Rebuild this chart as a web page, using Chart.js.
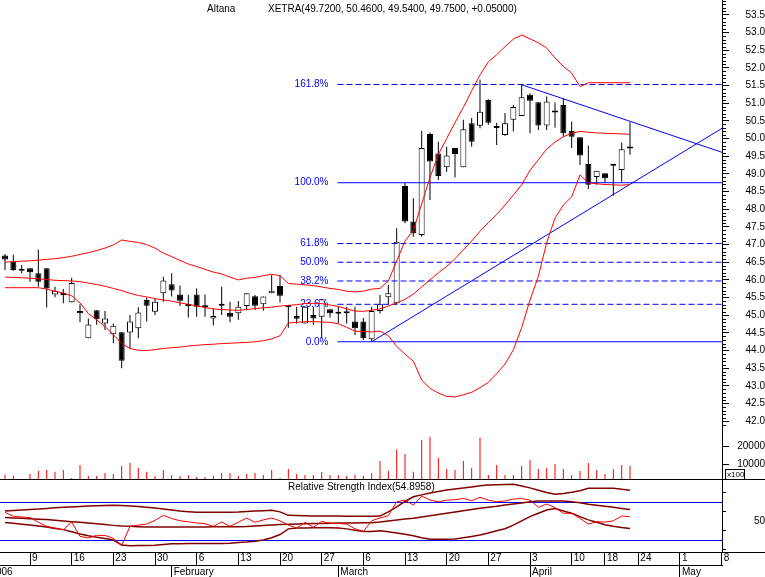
<!DOCTYPE html>
<html>
<head>
<meta charset="utf-8">
<title>Altana</title>
<script src="https://cdn.jsdelivr.net/npm/chart.js@4.4.1/dist/chart.umd.min.js"></script>
<style>
  html, body { margin: 0; padding: 0; background: #ffffff; }
  #altana-chart { display: block; width: 765px; height: 577px; }
</style>
</head>
<body>
<canvas id="altana-chart" width="765" height="577"></canvas>
<script>
// daily candles, 4 Jan 2006 (index 0) .. 21 Apr 2006 (index 75)
const opens = [
  46.69, 46.52, 46.30, 46.33, 46.19, 46.33, 45.59, 45.64, 45.37, 45.12,
  44.35, 45.14, 44.77, 44.46, 44.52, 44.51, 44.63, 45.43, 45.10, 45.62,
  45.88, 45.59, 45.26, 45.59, 45.26, 44.91, 45.32, 45.07, 45.06, 45.26,
  45.54, 45.31, 45.62, 45.83, 45.29, 44.98, 44.77, 45.01, 44.96, 45.17,
  45.04, 45.07, 44.82, 44.82, 44.32, 45.12, 45.51, 45.34, 48.66, 47.65,
  47.27, 50.13, 49.58, 49.19, 49.73, 49.19, 50.43, 50.36, 51.09, 50.33,
  50.10, 50.53, 50.64, 51.24, 51.03, 50.37, 50.76, 50.95, 50.22, 50.04,
  49.28, 48.91, 49.02, 49.25, 49.11, 49.72
];
const highs = [
  46.73, 46.71, 46.42, 46.33, 46.85, 46.33, 45.81, 45.74, 46.06, 45.31,
  44.91, 45.14, 45.12, 44.77, 44.52, 45.01, 45.23, 45.50, 45.46, 46.09,
  46.19, 45.84, 45.57, 45.76, 45.59, 45.20, 45.81, 45.38, 45.40, 45.62,
  45.57, 45.53, 46.14, 46.14, 45.29, 45.24, 45.24, 45.24, 45.45, 45.17,
  45.24, 45.24, 45.24, 44.92, 45.24, 45.57, 45.86, 47.46, 48.74, 48.31,
  50.22, 50.17, 49.91, 49.77, 49.73, 50.53, 50.58, 51.66, 51.11, 50.45,
  50.72, 50.95, 51.54, 51.28, 51.03, 51.19, 51.02, 51.14, 50.48, 50.04,
  49.80, 49.09, 49.02, 49.26, 49.89, 50.46
];
const lows = [
  46.28, 46.26, 46.19, 45.95, 45.81, 45.22, 45.51, 45.34, 45.37, 44.80,
  44.35, 44.73, 44.58, 44.21, 43.50, 44.05, 44.35, 44.82, 45.01, 45.38,
  45.53, 45.26, 44.94, 44.96, 44.96, 44.71, 45.01, 44.80, 44.87, 45.15,
  45.15, 45.13, 45.62, 45.36, 44.65, 44.77, 44.77, 44.73, 44.35, 44.94,
  44.77, 44.77, 44.44, 44.30, 44.25, 45.05, 45.29, 45.31, 47.60, 47.22,
  47.22, 48.26, 48.83, 49.06, 48.90, 49.19, 49.77, 50.29, 50.39, 49.82,
  50.08, 50.20, 50.64, 50.15, 50.24, 50.24, 50.31, 50.05, 49.73, 49.25,
  48.57, 48.69, 48.74, 48.38, 48.78, 49.54
];
const closes = [
  46.58, 46.28, 46.26, 46.22, 45.95, 45.76, 45.69, 45.57, 45.91, 45.06,
  44.74, 44.89, 44.91, 44.70, 43.71, 44.82, 45.08, 45.27, 45.38, 45.98,
  45.70, 45.41, 45.32, 45.24, 45.23, 44.98, 45.27, 44.96, 45.24, 45.62,
  45.27, 45.53, 45.69, 45.55, 45.23, 44.90, 45.24, 44.91, 45.45, 45.06,
  45.09, 45.06, 44.63, 44.35, 45.12, 45.31, 45.62, 47.08, 47.65, 47.32,
  49.73, 49.35, 48.94, 49.52, 49.56, 50.26, 49.91, 50.76, 50.45, 50.30,
  50.43, 50.89, 51.17, 51.07, 50.37, 51.05, 50.74, 50.15, 50.05, 49.52,
  48.69, 49.09, 48.88, 49.23, 49.70, 49.75
];
// volume in hundreds of shares
const volumes = [
  3900, 3300, 1600, 4400, 6300, 6700, 5700, 6700, 2200, 9400,
  3300, 3300, 5000, 4400, 8900, 10700, 7800, 5700, 3300, 6700,
  3900, 3300, 3900, 2800, 2800, 3300, 5000, 5000, 3300, 4400,
  5000, 3900, 6700, 2200, 7200, 4400, 3900, 3900, 5600, 3900,
  3900, 3300, 3900, 3300, 5000, 11700, 6300, 18100, 15600, 5700,
  23300, 25200, 13500, 7200, 6700, 11700, 7800, 24600, 3900, 9400,
  3900, 3900, 8900, 12200, 7200, 7800, 10000, 7200, 3900, 6100,
  10600, 6700, 4400, 7200, 9400, 8900
];

// bollinger bands on price
const bandUpper = [
  46.50, 46.52, 46.53, 46.54, 46.56, 46.58, 46.60, 46.63, 46.67, 46.72,
  46.77, 46.83, 46.90, 46.99, 47.13, 47.09, 47.06, 47.00, 46.90, 46.76,
  46.66, 46.55, 46.45, 46.38, 46.30, 46.22, 46.17, 46.08, 46.00, 46.05,
  46.07, 46.12, 46.16, 46.12, 45.90, 45.88, 45.86, 45.84, 45.80, 45.76,
  45.73, 45.68, 45.66, 45.68, 45.74, 45.76, 45.97, 46.53, 47.10, 47.40,
  48.15, 48.90, 49.55, 50.00, 50.45, 50.88, 51.35, 51.80, 52.17, 52.37,
  52.60, 52.81, 52.93, 52.82, 52.71, 52.56, 52.28, 52.04, 51.85, 51.47,
  51.58, 51.58, 51.58, 51.58, 51.58, 51.58
];
const bandMiddle = [
  46.08, 46.07, 46.06, 46.05, 46.03, 46.01, 45.99, 45.98, 45.97, 45.95,
  45.91, 45.87, 45.82, 45.76, 45.70, 45.62, 45.56, 45.52, 45.47, 45.43,
  45.40, 45.35, 45.31, 45.26, 45.22, 45.18, 45.16, 45.15, 45.14, 45.16,
  45.19, 45.21, 45.23, 45.26, 45.28, 45.30, 45.33, 45.34, 45.33, 45.29,
  45.25, 45.18, 45.12, 45.11, 45.14, 45.18, 45.26, 45.35, 45.45, 45.60,
  45.80, 46.00, 46.20, 46.38, 46.60, 46.85, 47.10, 47.38, 47.62, 47.85,
  48.12, 48.40, 48.69, 49.10, 49.40, 49.70, 49.90, 50.05, 50.15, 50.20,
  50.18, 50.16, 50.15, 50.14, 50.13, 50.12
];
const bandLower = [
  45.78, 45.78, 45.78, 45.78, 45.78, 45.74, 45.68, 45.63, 45.55, 45.35,
  45.05, 44.87, 44.68, 44.45, 44.20, 44.06, 44.01, 44.00, 44.03, 44.06,
  44.08, 44.10, 44.13, 44.15, 44.17, 44.18, 44.20, 44.21, 44.22, 44.23,
  44.25, 44.28, 44.33, 44.42, 44.78, 44.80, 44.82, 44.82, 44.81, 44.80,
  44.76, 44.66, 44.55, 44.54, 44.53, 44.55, 44.42, 44.12, 43.90, 43.70,
  43.17, 42.93, 42.80, 42.70, 42.69, 42.75, 42.82, 42.95, 43.10, 43.35,
  43.62, 44.02, 44.65, 45.43, 46.10, 47.05, 47.75, 48.12, 48.35, 48.97,
  48.75, 48.72, 48.70, 48.69, 48.68, 48.70
];

// relative strength index and its bands
const rsiValues = [
  59.5, 55.3, 54.6, 54.0, 49.0, 44.7, 43.0, 41.1, 49.3, 34.1,
  32.3, 35.2, 35.0, 32.0, 24.2, 44.7, 46.0, 47.1, 51.0, 56.3,
  53.0, 50.6, 49.5, 48.2, 47.5, 44.7, 49.3, 44.7, 49.0, 53.5,
  48.9, 51.5, 53.5, 50.5, 46.0, 42.9, 48.9, 43.7, 50.0, 48.0,
  47.6, 47.1, 42.0, 39.4, 50.6, 53.5, 56.0, 70.7, 72.5, 67.2,
  76.8, 72.5, 70.7, 72.5, 72.8, 74.3, 71.8, 75.4, 72.5, 70.7,
  71.5, 73.6, 74.0, 72.5, 64.8, 68.3, 64.5, 58.5, 58.5, 53.0,
  47.1, 49.6, 49.2, 50.5, 55.6, 54.8958
];
const rsiUpper = [
  61.0, 61.5, 62.0, 62.5, 63.0, 63.7, 64.3, 64.8, 65.2, 65.7,
  66.1, 66.4, 66.7, 66.9, 66.8, 66.3, 65.6, 64.8, 64.0, 63.0,
  62.0, 61.0, 60.2, 59.5, 59.5, 59.5, 59.5, 59.5, 59.8, 60.3,
  60.8, 61.3, 61.8, 60.0, 56.3, 56.1, 55.9, 55.7, 55.6, 55.5,
  55.5, 55.4, 55.4, 55.3, 55.3, 55.5, 60.0, 65.4, 71.0, 76.0,
  78.0, 80.0, 81.6, 83.1, 84.2, 85.3, 86.4, 87.6, 88.5, 88.8,
  89.0, 89.2, 87.5, 85.4, 83.0, 80.5, 78.6, 79.5, 80.8, 82.4,
  84.9, 84.9, 84.9, 84.9, 84.0, 83.0
];
const rsiMiddle = [
  54.0, 53.6, 53.2, 52.8, 52.3, 51.8, 51.2, 50.4, 49.6, 48.9,
  48.1, 47.3, 46.5, 45.7, 45.1, 44.7, 44.3, 44.0, 44.0, 44.0,
  44.0, 44.0, 44.0, 44.1, 44.1, 44.2, 44.2, 44.2, 44.3, 44.4,
  45.0, 45.6, 46.2, 46.7, 47.0, 47.2, 47.4, 47.6, 47.8, 47.9,
  48.1, 48.2, 48.3, 48.4, 48.6, 49.3, 50.4, 51.5, 52.4, 53.3,
  54.6, 55.9, 57.2, 58.5, 59.8, 61.1, 62.4, 63.8, 65.0, 66.0,
  67.2, 68.3, 69.5, 70.6, 71.4, 71.5, 71.5, 71.5, 70.8, 69.6,
  68.1, 67.0, 65.9, 64.8, 63.6, 62.5
];
const rsiLower = [
  48.7, 48.0, 47.0, 46.0, 45.0, 44.0, 42.5, 41.2, 39.0, 36.5,
  34.6, 33.2, 31.8, 30.2, 25.0, 24.2, 24.3, 24.4, 24.6, 25.4,
  26.2, 26.3, 26.4, 26.4, 26.5, 26.5, 26.6, 26.7, 27.5, 28.1,
  29.0, 30.2, 32.6, 36.0, 42.0, 42.8, 43.0, 43.1, 43.2, 43.1,
  43.0, 42.0, 40.5, 39.2, 39.3, 40.0, 39.0, 37.6, 36.2, 34.6,
  32.5, 31.0, 31.0, 31.0, 31.2, 32.5, 34.0, 35.5, 37.6, 40.0,
  42.2, 46.0, 50.5, 55.0, 58.5, 62.0, 63.6, 61.0, 58.5, 55.0,
  51.5, 49.0, 46.4, 44.8, 43.5, 42.4
];

// date axis: week starts and month starts (trading-day index)
const weekTickIdx = [3, 8, 13, 18, 23, 28, 33, 38, 43, 48, 53, 58, 63, 68, 72, 76, 81, 86];
const weekTickLabels = ['9', '16', '23', '30', '6', '13', '20', '27', '6', '13', '20', '27', '3', '10', '18', '24', '1', '8'];
const monthTickIdx = [-2, 20, 40, 63, 81];
const monthTickLabels = ['2006', 'February', 'March', 'April', 'May'];

// fibonacci retracement and trend lines
const fibLabels = ['0.0%', '23.6%', '38.2%', '50.0%', '61.8%', '100.0%', '161.8%'];
const fibPrices = [44.25, 45.31, 45.97, 46.50, 47.03, 48.75, 51.53];
const fibStartIdx = 39.9;
const trendLowerPts = [[44, 44.25], [86.04, 50.29]];
const trendUpperPts = [[61.9, 51.53], [86.04, 49.61]];

const volTickValues = [10000, 20000];
const rsiTickValues = [20, 30, 40, 50, 60, 70, 80];

// ---- layout ----
const FONT = '"Liberation Sans", Arial, sans-serif';
const X_MIN = -0.6, X_MAX = 86.04;
const AXIS_W = 43;
const RED = '#ff0000', BLUE = '#0000ff', MAROON = '#800000';

Chart.defaults.font.family = FONT;
Chart.defaults.font.size = 10;
Chart.defaults.color = '#000000';

const pts = (arr) => arr.map((v, i) => ({ x: i, y: v }));
const seg = (pairs) => pairs.map(([x, y]) => ({ x, y }));

const datasets = [];

// price bands
[bandUpper, bandMiddle, bandLower].forEach((band) => {
  datasets.push({
    type: 'line', data: pts(band), xAxisID: 'x', yAxisID: 'y',
    borderColor: RED, borderWidth: 1, pointRadius: 0, tension: 0, order: 1,
  });
});

// fibonacci levels
fibPrices.forEach((p, n) => {
  const solid = fibLabels[n] === '0.0%' || fibLabels[n] === '100.0%';
  datasets.push({
    type: 'line', data: seg([[fibStartIdx, p], [X_MAX, p]]), xAxisID: 'x', yAxisID: 'y',
    borderColor: BLUE, borderWidth: 1, borderDash: solid ? [] : [6, 3], pointRadius: 0, order: 2,
  });
});

// trend lines
[trendLowerPts, trendUpperPts].forEach((t) => {
  datasets.push({
    type: 'line', data: seg(t), xAxisID: 'x', yAxisID: 'y',
    borderColor: BLUE, borderWidth: 1, pointRadius: 0, order: 2,
  });
});

// candle bodies
datasets.push({
  type: 'bar', xAxisID: 'x', yAxisID: 'y', order: 3,
  data: opens.map((o, i) => ({ x: i, y: [o, closes[i]] })),
  backgroundColor: opens.map((o, i) => (closes[i] >= o ? '#ffffff' : '#000000')),
  borderColor: '#000000', borderWidth: 1, borderSkipped: false,
  barThickness: 6, minBarLength: 2, grouped: false, inflateAmount: 0,
});

// candle wicks
datasets.push({
  type: 'bar', xAxisID: 'x', yAxisID: 'y', order: 4,
  data: lows.map((l, i) => ({ x: i, y: [l, highs[i]] })),
  backgroundColor: '#000000', borderWidth: 0,
  barThickness: 1, grouped: false, inflateAmount: 0,
});

// volume
datasets.push({
  type: 'bar', xAxisID: 'x', yAxisID: 'yVol', order: 5,
  data: pts(volumes), base: 1500,
  backgroundColor: RED, borderWidth: 0,
  barThickness: 1, grouped: false, inflateAmount: 0,
});

// rsi bands and rsi
[rsiUpper, rsiMiddle, rsiLower].forEach((band) => {
  datasets.push({
    type: 'line', data: pts(band), xAxisID: 'x', yAxisID: 'yRsi',
    borderColor: MAROON, borderWidth: 1.5, pointRadius: 0, order: 1,
  });
});
datasets.push({
  type: 'line', data: pts(rsiValues), xAxisID: 'x', yAxisID: 'yRsi',
  borderColor: RED, borderWidth: 1, pointRadius: 0, order: 0,
});

// small ticks between the labelled price ticks
const minorTicks = {
  id: 'minorTicks',
  afterDraw(chart) {
    const s = chart.scales.y;
    const ctx = chart.ctx;
    ctx.save();
    ctx.strokeStyle = '#000000';
    ctx.lineWidth = 1;
    ctx.beginPath();
    for (let t = Math.ceil(s.min * 10); t <= Math.floor(s.max * 10); t++) {
      if (t % 5 === 0) continue;
      const py = Math.round(s.getPixelForValue(t / 10)) + 0.5;
      ctx.moveTo(s.left, py);
      ctx.lineTo(s.left + 4, py);
    }
    ctx.stroke();
    ctx.restore();
  },
};

// captions, fib labels and panel separators
const panelDecor = {
  id: 'panelDecor',
  beforeDatasetsDraw(chart) {
    const ctx = chart.ctx;
    const xs = chart.scales.x, ys = chart.scales.y;
    ctx.save();
    ctx.font = '10px ' + FONT;
    ctx.fillStyle = BLUE;
    ctx.textAlign = 'right';
    ctx.textBaseline = 'middle';
    const lx = xs.getPixelForValue(fibStartIdx) - 9;
    fibPrices.forEach((p, n) => ctx.fillText(fibLabels[n], lx, ys.getPixelForValue(p)));
    ctx.restore();
  },
  afterDraw(chart) {
    const ctx = chart.ctx;
    const last = closes.length - 1;
    const change = closes[last] - closes[last - 1];
    ctx.save();
    ctx.font = '10px ' + FONT;
    ctx.fillStyle = '#000000';
    ctx.textBaseline = 'middle';
    ctx.textAlign = 'left';
    ctx.fillText('Altana', 207, 9);
    ctx.fillText('XETRA(' + [opens[last], highs[last], lows[last], closes[last]].map((v) => v.toFixed(4)).join(', ') +
      ', ' + (change >= 0 ? '+' : '') + change.toFixed(5) + ')', 268, 9);
    ctx.fillText('Relative Strength Index(' + rsiValues[last].toFixed(4) + ')', 288, 487);

    // separators
    ctx.strokeStyle = '#000000';
    ctx.lineWidth = 1;
    const yv = Math.round(chart.scales.yVol.bottom) + 0.5;
    const yx = Math.round(chart.chartArea.bottom) + 0.5;
    ctx.beginPath();
    ctx.moveTo(0, yv); ctx.lineTo(chart.width, yv);
    ctx.moveTo(chart.chartArea.right, yx); ctx.lineTo(chart.width, yx);
    ctx.stroke();

    // volume unit box
    ctx.strokeRect(725.5, yv - 10, 19, 10);
    ctx.font = '8px ' + FONT;
    ctx.fillText('x100', 727, yv - 5);
    ctx.restore();
  },
};

const rightAxis = (extra) => Object.assign({
  type: 'linear', position: 'right', stack: 'panels', offset: false, beginAtZero: false,
  border: { display: true, color: '#000000' },
  afterFit: (s) => { s.width = AXIS_W; s.paddingTop = 0; s.paddingBottom = 0; },
}, extra);

new Chart(document.getElementById('altana-chart'), {
  type: 'bar',
  data: { datasets },
  options: {
    responsive: false,
    animation: false,
    devicePixelRatio: 1,
    events: [],
    layout: { padding: 0, autoPadding: false },
    plugins: { legend: { display: false }, tooltip: { enabled: false }, title: { display: false } },
    scales: {
      x: {
        type: 'linear', axis: 'x', position: 'bottom', min: X_MIN, max: X_MAX, offset: false, weight: 0,
        afterBuildTicks: (s) => { s.ticks = weekTickIdx.map((v) => ({ value: v })); },
        afterFit: (s) => { s.height = 13; s.paddingLeft = 0; s.paddingRight = 0; },
        ticks: {
          autoSkip: false, maxRotation: 0, minRotation: 0, align: 'start', labelOffset: 2, padding: -12.5,
          callback: (v, i) => weekTickLabels[i],
        },
        grid: { drawOnChartArea: false, drawTicks: true, tickLength: 13, tickColor: '#000000', offset: false },
        border: { display: true, color: '#000000' },
      },
      xMonth: {
        type: 'linear', axis: 'x', position: 'bottom', min: X_MIN, max: X_MAX, offset: false, weight: 1,
        afterBuildTicks: (s) => { s.ticks = monthTickIdx.map((v) => ({ value: v })); },
        afterFit: (s) => { s.height = 12; s.paddingLeft = 0; s.paddingRight = 0; },
        ticks: {
          autoSkip: false, maxRotation: 0, minRotation: 0, align: 'start', labelOffset: 2, padding: -11,
          callback: (v, i) => monthTickLabels[i],
        },
        grid: { drawOnChartArea: false, drawTicks: true, tickLength: 12, tickColor: '#000000', offset: false },
        border: { display: true, color: '#000000' },
      },
      y: rightAxis({
        stackWeight: 428, min: 41.81, max: 53.92,
        ticks: { stepSize: 0.5, includeBounds: false, autoSkip: false, crossAlign: 'far', padding: 11.5,
          callback: (v) => v.toFixed(1) },
        grid: { drawOnChartArea: false, tickLength: 7, tickColor: '#000000' },
      }),
      yVol: rightAxis({
        stackWeight: 51.3, min: 1500, max: 30000,
        afterBuildTicks: (s) => { s.ticks = volTickValues.map((v) => ({ value: v })); },
        ticks: { autoSkip: false, crossAlign: 'far', padding: 3, callback: (v) => String(v) },
        grid: { drawOnChartArea: false, tickLength: 7, tickColor: '#000000' },
      }),
      yRsi: rightAxis({
        stackWeight: 72.7, min: 17.5, max: 94.5,
        afterBuildTicks: (s) => { s.ticks = rsiTickValues.map((v) => ({ value: v })); },
        ticks: { autoSkip: false, crossAlign: 'far', padding: 23, callback: (v) => (v === 50 ? '50' : '') },
        grid: {
          drawOnChartArea: true, tickLength: 4,
          color: (c) => (c.tick && (c.tick.value === 30 || c.tick.value === 70) ? BLUE : 'rgba(0,0,0,0)'),
          tickColor: (c) => (c.tick && c.tick.value % 20 === 0 ? '#000000' : 'rgba(0,0,0,0)'),
        },
      }),
    },
  },
  plugins: [panelDecor, minorTicks],
});
</script>
</body>
</html>
